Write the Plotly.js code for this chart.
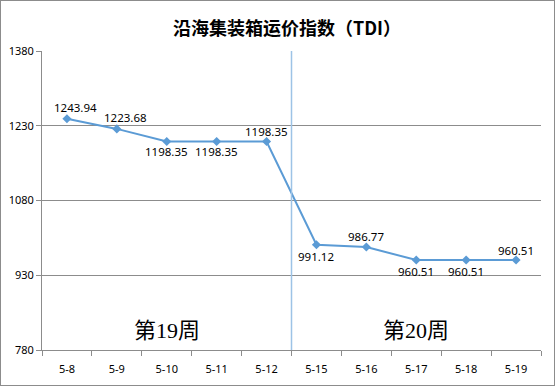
<!DOCTYPE html>
<html><head><meta charset="utf-8">
<script src="https://cdn.plot.ly/plotly-3.0.1.min.js"></script>
<style>html,body{margin:0;padding:0;background:#fff;}
#wrap{position:relative;width:555px;height:386px;}
#chart{position:absolute;left:0;top:0;width:555px;height:386px;}
#frame{position:absolute;left:0;top:0;width:553px;height:384px;border:1px solid #8c8c8c;pointer-events:none;}
</style></head>
<body><div id="wrap"><div id="chart"></div><div id="frame"></div></div>
<script>
const dates = ['5-8','5-9','5-10','5-11','5-12','5-15','5-16','5-17','5-18','5-19'];
const tdi = [1243.94,1223.68,1198.35,1198.35,1198.35,991.12,986.77,960.51,960.51,960.51];
const yTicks = [780,930,1080,1230,1380];
const weekLabels = ['第19周','第20周'];

// label placement styles (pixel offsets)
const labelDx = [9,9,0,0,0,0,0,0,0,0];
const labelDy = [11,11,-10,-10,10,-12,10,-11,-11,10];

const trace = {
  type:'scatter', mode:'lines+markers',
  x: dates, y: tdi,
  line:{color:'#5B9BD5', width:2},
  marker:{symbol:'diamond', size:7, color:'#5B9BD5'},
  cliponaxis:false, hoverinfo:'skip'
};

const labelFont = {family:'Noto Sans, Liberation Sans, sans-serif', size:11.5, color:'#000'};
const valueAnns = dates.map((d,i)=>({
  x:d, y:tdi[i], xref:'x', yref:'y', text:tdi[i].toFixed(2), showarrow:false,
  xanchor:'center', yanchor:'middle', xshift:labelDx[i], yshift:labelDy[i], font:labelFont
}));

const weekFont = {family:'Liberation Serif, Noto Sans CJK SC, serif', size:22, color:'#000'};

const layout = {
  width:555, height:386,
  margin:{l:42, r:14, t:51, b:36},
  paper_bgcolor:'#fff', plot_bgcolor:'#fff',
  showlegend:false,
  title:{text:'<b>沿海集装箱运价指数（TDI）</b>', x:0.517, xanchor:'center', y:0.925, yanchor:'middle',
    font:{family:'Noto Sans CJK SC, sans-serif', size:18, color:'#000'}},
  xaxis:{type:'category', tickson:'boundaries', ticks:'outside', ticklen:5, tickcolor:'#8c8c8c',
    showline:true, linecolor:'#8c8c8c', linewidth:1, showgrid:false, zeroline:false,
    ticklabelstandoff:9,
    tickfont:{family:'Noto Sans, Liberation Sans, sans-serif', size:11, color:'#000'},
    range:[-0.5,9.5]},
  yaxis:{range:[780,1380], tickvals:yTicks, ticktext:yTicks.map(String),
    ticks:'outside', ticklen:5, tickcolor:'#8c8c8c',
    showline:true, linecolor:'#8c8c8c', linewidth:1,
    showgrid:true, gridcolor:'#8c8c8c', gridwidth:1, zeroline:false,
    tickfont:{family:'Noto Sans, Liberation Sans, sans-serif', size:11, color:'#000'}},
  shapes:[{type:'line', xref:'x', yref:'paper', x0:4.5, x1:4.5, y0:0, y1:1,
    line:{color:'#9DC3E6', width:1.5}}],
  annotations:[
    {x:2, y:820, xref:'x', yref:'y', text:weekLabels[0], showarrow:false, font:weekFont},
    {x:7, y:820, xref:'x', yref:'y', text:weekLabels[1], showarrow:false, font:weekFont}
  ].concat(valueAnns)
};
Plotly.newPlot('chart',[trace],layout,{staticPlot:true});
</script></body></html>
